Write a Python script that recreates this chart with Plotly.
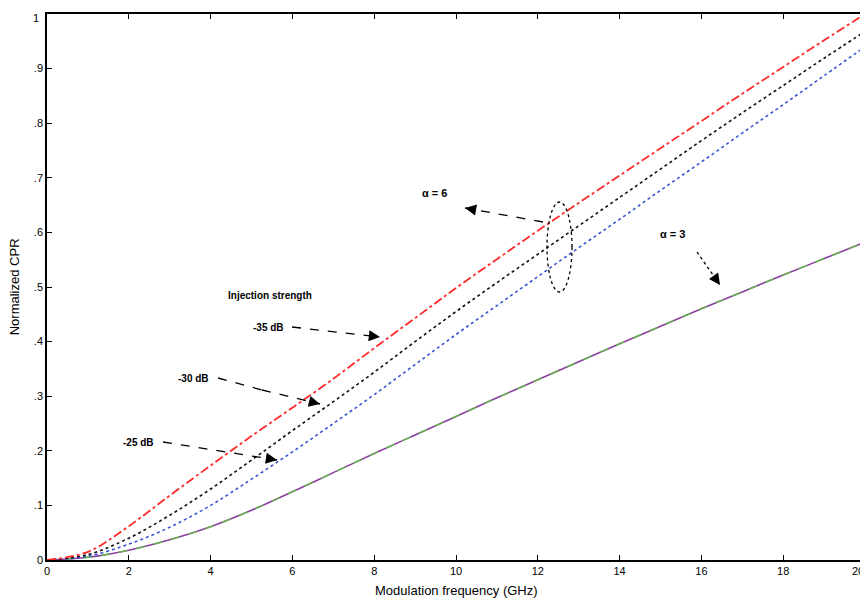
import math
import plotly.graph_objects as go

# ---- data ----
freq = [0, 1, 2, 3, 4, 5, 6, 7, 8, 9, 10, 11, 12, 13, 14, 15, 16, 17, 18, 19, 20]
cpr_a6_35dB = [0, 0.015, 0.062, 0.118, 0.173, 0.227, 0.279, 0.332, 0.388, 0.443, 0.498, 0.551, 0.603, 0.654, 0.704, 0.754, 0.804, 0.854, 0.903, 0.952, 1.0]
cpr_a6_30dB = [0, 0.010, 0.040, 0.082, 0.130, 0.183, 0.237, 0.290, 0.344, 0.400, 0.455, 0.508, 0.560, 0.612, 0.664, 0.716, 0.768, 0.819, 0.869, 0.919, 0.968]
cpr_a6_25dB = [0, 0.007, 0.029, 0.060, 0.100, 0.148, 0.198, 0.250, 0.303, 0.358, 0.413, 0.466, 0.519, 0.572, 0.624, 0.677, 0.729, 0.782, 0.834, 0.887, 0.940]
cpr_a3 = [0, 0.005, 0.018, 0.037, 0.061, 0.091, 0.125, 0.160, 0.195, 0.229, 0.263, 0.297, 0.330, 0.363, 0.396, 0.428, 0.460, 0.491, 0.522, 0.552, 0.582]

x_ticks = [0, 2, 4, 6, 8, 10, 12, 14, 16, 18, 20]
x_tick_text = ["0", "2", "4", "6", "8", "10", "12", "14", "16", "18", "20"]
y_ticks = [0, 0.1, 0.2, 0.3, 0.4, 0.5, 0.6, 0.7, 0.8, 0.9, 1.0]
y_tick_text = ["0", ".1", ".2", ".3", ".4", ".5", ".6", ".7", ".8", ".9", "1"]

FONT = "Liberation Sans, Arial, sans-serif"

fig = go.Figure()
fig.add_trace(go.Scatter(x=freq, y=cpr_a3, mode="lines", line=dict(color="#8a3fa0", width=1.6), line_shape="spline", showlegend=False))
fig.add_trace(go.Scatter(x=freq, y=cpr_a3, mode="lines", line=dict(color="#5cc03c", width=1.3, dash="dash"), line_shape="spline", showlegend=False))
fig.add_trace(go.Scatter(x=freq, y=cpr_a6_25dB, mode="lines", line=dict(color="#3a55d0", width=1.6, dash="dot"), line_shape="spline", showlegend=False))
fig.add_trace(go.Scatter(x=freq, y=cpr_a6_30dB, mode="lines", line=dict(color="#111111", width=1.6, dash="dot"), line_shape="spline", showlegend=False))
fig.add_trace(go.Scatter(x=freq, y=cpr_a6_35dB, mode="lines", line=dict(color="#ff2a2a", width=1.8, dash="dashdot"), line_shape="spline", showlegend=False))

# pixel (screen) -> data helpers for annotation placement
X0, XS = 47.0, 40.9
Y0, YS = 560.0, 546.0
def dx(px):
    return (px - X0) / XS
def dy(py):
    return (Y0 - py) / YS

shapes = []
annotations = []

def dashed_arrow(pts, dash="dash"):
    for (a, b) in zip(pts[:-1], pts[1:]):
        shapes.append(dict(type="line", xref="x", yref="y", x0=dx(a[0]), y0=dy(a[1]), x1=dx(b[0]), y1=dy(b[1]),
                           line=dict(color="black", width=1.3, dash=dash)))
    (px, py), (hx, hy) = pts[-2], pts[-1]
    L = math.hypot(hx - px, hy - py)
    ux, uy = (hx - px) / L, (hy - py) / L
    annotations.append(dict(x=dx(hx), y=dy(hy), xref="x", yref="y", ax=-ux * 10, ay=-uy * 10,
                            showarrow=True, arrowhead=2, arrowsize=1.6, arrowwidth=1.4, arrowcolor="black", text=""))

def label(text, px, py, size=11):
    annotations.append(dict(x=dx(px), y=dy(py), xref="x", yref="y", text=text, showarrow=False,
                            font=dict(family=FONT, size=size, color="black")))

label("<b>Injection strength</b>", 270, 295, 10)
label("<b>-35 dB</b>", 268, 327, 10)
dashed_arrow([(292, 327), (380, 337)])
label("<b>-30 dB</b>", 193, 378, 10)
dashed_arrow([(218, 378), (262, 390), (320, 404)])
label("<b>-25 dB</b>", 138, 442, 10)
dashed_arrow([(163, 442), (277, 460)])
label("<b>α = 6</b>", 434, 193, 11)
dashed_arrow([(543, 222), (465, 208)])
label("<b>α = 3</b>", 672, 234, 11)
dashed_arrow([(697, 252), (720, 285)], dash="dot")

shapes.append(dict(type="circle", xref="x", yref="y", x0=dx(547), x1=dx(572), y0=dy(292), y1=dy(202),
                   line=dict(color="black", width=1.3, dash="dot")))

# axis titles (placed in paper coordinates)
annotations.append(dict(x=0.5, y=-0.055, xref="paper", yref="paper", text="Modulation frequency (GHz)",
                        showarrow=False, font=dict(family=FONT, size=13, color="black"), yanchor="middle"))
annotations.append(dict(x=-0.040, y=0.5, xref="paper", yref="paper", text="Normalized CPR", textangle=-90,
                        showarrow=False, font=dict(family=FONT, size=13, color="black"), xanchor="center"))
# edge tick labels, which sit at the very edge of the page
annotations.append(dict(x=x_ticks[-1], y=-0.02, xref="x", yref="paper", text=x_tick_text[-1], showarrow=False,
                        xanchor="right", xshift=1, yanchor="middle", font=dict(family=FONT, size=11, color="black")))
annotations.append(dict(x=0, y=y_ticks[-1], xref="paper", yref="y", text=y_tick_text[-1], showarrow=False,
                        xanchor="right", xshift=-6, yanchor="top", yshift=4, font=dict(family=FONT, size=11, color="black")))

# the page adds an 8px body margin, so the figure is 860x595 and margins are offset by 8px
fig.update_layout(
    width=860, height=595,
    margin=dict(l=39, r=3, t=6, b=43, autoexpand=False),
    paper_bgcolor="white", plot_bgcolor="white",
    font=dict(family=FONT, size=11, color="black"),
    shapes=shapes, annotations=annotations,
    showlegend=False,
)
fig.update_xaxes(range=[0, 20], tickvals=x_ticks[:-1], ticktext=x_tick_text[:-1], ticks="inside", ticklen=5,
                 tickwidth=1.3, tickcolor="black", showline=True, linecolor="black", linewidth=1.5, mirror="ticks",
                 showgrid=False, zeroline=False, automargin=False, tickfont=dict(size=11))
fig.update_yaxes(range=[0, 1], tickvals=y_ticks[:-1], ticktext=y_tick_text[:-1], ticks="inside", ticklen=5,
                 tickwidth=1.3, tickcolor="black", showline=True, linecolor="black", linewidth=1.5, mirror="ticks",
                 showgrid=False, zeroline=False, automargin=False, tickfont=dict(size=11))

fig.write_html("out.html")
